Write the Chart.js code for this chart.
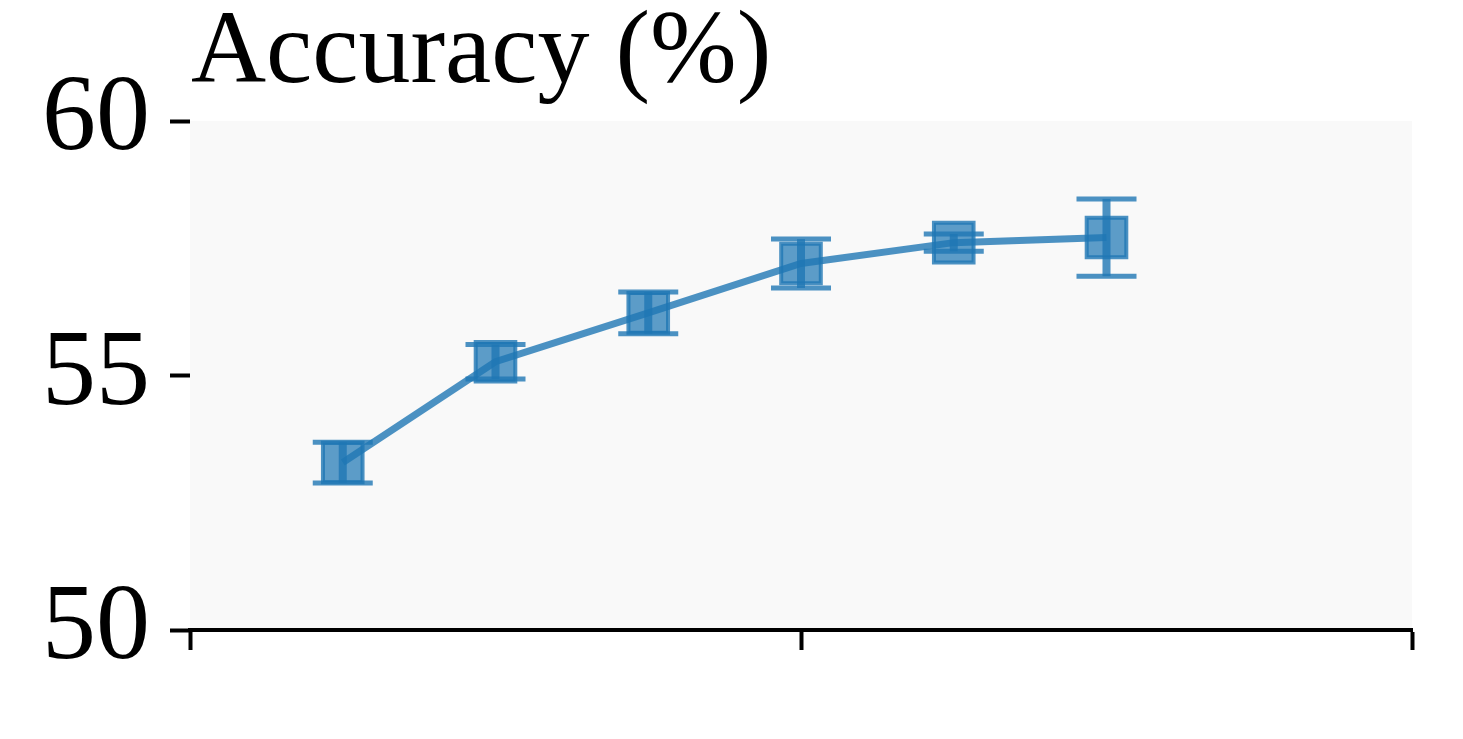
<!DOCTYPE html>
<html>
<head>
<meta charset="utf-8">
<script src="https://cdn.jsdelivr.net/npm/chart.js@4"></script>
<style>
  html, body { margin: 0; padding: 0; background: #ffffff; }
  #wrap { width: 1463px; height: 739px; }
</style>
</head>
<body>
<div id="wrap"><canvas id="acc-chart" width="1463" height="739"></canvas></div>
<script>
// values
const xValues = [1, 2, 3, 4, 5, 6];
const accuracy = [53.29, 55.27, 56.23, 57.20, 57.61, 57.71];
const errors = [0.40, 0.34, 0.41, 0.48, 0.17, 0.76];
const yTicks = [50, 55, 60];
const xTicks = [0, 4, 8];
const titleText = "Accuracy (%)";

const blue = "rgba(31, 119, 180, 0.8)";

// light grey plot background
const plotBackground = {
    id: "plotBackground",
    beforeDraw(chart) {
        const { ctx, chartArea } = chart;
        ctx.save();
        ctx.fillStyle = "#f9f9f9";
        ctx.fillRect(chartArea.left, chartArea.top, chartArea.right - chartArea.left, chartArea.bottom - chartArea.top);
        ctx.restore();
    },
};

// vertical error bars with caps
const errorBars = {
    id: "errorBars",
    afterDatasetsDraw(chart) {
        const ctx = chart.ctx;
        const xs = chart.scales.x;
        const ys = chart.scales.y;
        ctx.save();
        ctx.strokeStyle = blue;
        ctx.lineCap = "butt";
        for (let i = 0; i < xValues.length; i++) {
            const px = xs.getPixelForValue(xValues[i]);
            const top = ys.getPixelForValue(accuracy[i] + errors[i]);
            const bottom = ys.getPixelForValue(accuracy[i] - errors[i]);
            ctx.lineWidth = 8;
            ctx.beginPath();
            ctx.moveTo(px, top);
            ctx.lineTo(px, bottom);
            ctx.stroke();
            ctx.lineWidth = 5;
            ctx.beginPath();
            ctx.moveTo(px - 30, top);
            ctx.lineTo(px + 30, top);
            ctx.moveTo(px - 30, bottom);
            ctx.lineTo(px + 30, bottom);
            ctx.stroke();
        }
        ctx.restore();
    },
};

// title sits above the plot, left aligned with it
const topTitle = {
    id: "topTitle",
    afterDraw(chart) {
        const ctx = chart.ctx;
        ctx.save();
        ctx.fillStyle = "#000";
        ctx.font = '104px "Liberation Serif", serif';
        ctx.textBaseline = "alphabetic";
        ctx.fillText(titleText, chart.chartArea.left + 1, 82);
        ctx.restore();
    },
};

Chart.defaults.font.family = '"Liberation Serif", serif';
Chart.defaults.color = "#000";

const ctx = document.getElementById("acc-chart").getContext("2d");
new Chart(ctx, {
    type: "line",
    data: {
        datasets: [
            {
                data: xValues.map((x, i) => ({ x: x, y: accuracy[i] })),
                borderColor: blue,
                borderWidth: 7,
                backgroundColor: "rgba(31, 119, 180, 0.75)",
                pointStyle: "rect",
                pointRadius: 28,
                pointBorderWidth: 4,
                pointBorderColor: blue,
                pointBackgroundColor: "rgba(31, 119, 180, 0.72)",
                fill: false,
                tension: 0,
                clip: false,
            },
        ],
    },
    options: {
        responsive: false,
        animation: false,
        layout: { padding: { top: 121, right: 51, left: 0, bottom: 0 } },
        plugins: {
            legend: { display: false },
            tooltip: { enabled: false },
        },
        scales: {
            x: {
                type: "linear",
                min: xTicks[0],
                max: xTicks[xTicks.length - 1],
                afterBuildTicks: (scale) => {
                    scale.ticks = xTicks.map((v) => ({ value: v }));
                },
                afterFit: (scale) => {
                    scale.height = 109;
                },
                ticks: { callback: () => "", padding: 0 },
                grid: {
                    drawOnChartArea: false,
                    drawTicks: true,
                    tickLength: 20,
                    tickWidth: 4,
                    tickColor: "#000",
                },
                border: { display: true, color: "#000", width: 4 },
            },
            y: {
                min: yTicks[0],
                max: yTicks[yTicks.length - 1],
                afterBuildTicks: (scale) => {
                    scale.ticks = yTicks.map((v) => ({ value: v }));
                },
                afterFit: (scale) => {
                    scale.width = 190;
                },
                ticks: {
                    padding: 20,
                    font: { size: 108 },
                    color: "#000",
                },
                grid: {
                    drawOnChartArea: false,
                    drawTicks: true,
                    tickLength: 20,
                    tickWidth: 4,
                    tickColor: "#000",
                },
                border: { display: false },
            },
        },
    },
    plugins: [plotBackground, errorBars, topTitle],
});
</script>
</body>
</html>
